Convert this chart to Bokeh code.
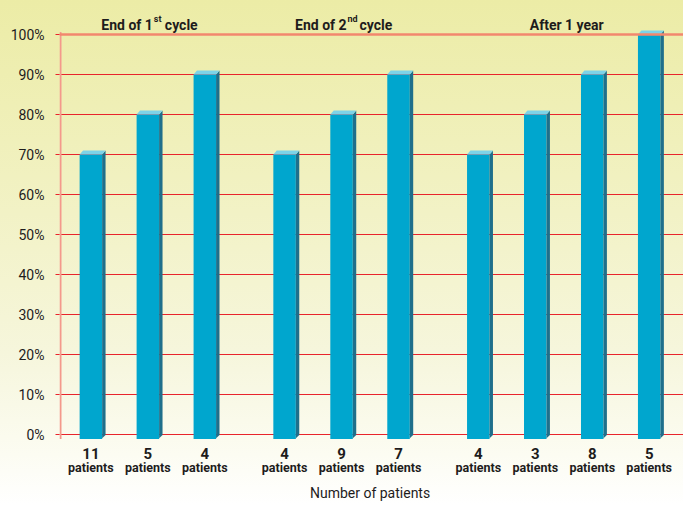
from bokeh.plotting import figure
from bokeh.models import Range1d, FixedTicker, Span, Label, LabelSet, ColumnDataSource
from bokeh.embed import file_html
from bokeh.resources import INLINE
from bokeh.core.properties import value

# ---------------- data ----------------
group_title_main = ["End of 1", "End of 2", "After 1 year"]
group_title_sup = ["st", "nd", ""]
group_title_tail = ["cycle", "cycle", ""]
group_sizes = [3, 3, 4]
percent = [70, 80, 90, 70, 80, 90, 70, 80, 90, 100]
patients = [11, 5, 4, 4, 9, 7, 4, 3, 8, 5]
patient_word = "patients"
y_ticks = [0, 10, 20, 30, 40, 50, 60, 70, 80, 90, 100]
y_tick_labels = ["0%", "10%", "20%", "30%", "40%", "50%", "60%", "70%", "80%", "90%", "100%"]
x_axis_label = "Number of patients"

# ---------------- style ----------------
FONT = "Roboto"
GAP = 0.4          # extra space between groups (in bar slots)
BAR_W = 0.395      # front face width
SIDE_W = 0.06      # depth of the 3D side
TOP_H = 1.0        # depth of the 3D top (in y units)
FRONT = "#00A6CE"
SIDE = "#1F6F8B"
TOP = "#7DD3E8"
GRID_RED = "#E8242C"
SALMON = "#F2876E"
AXIS = "#F4998C"
TEXT = "#1E1C1C"
PX = 1 / 56.97     # one pixel in x units
BAR_BOTTOM = -1.12
AXIS_TOP = 100.6

# positions of bars: running index plus a gap per group
pos, grp = [], []
idx = 0
for g, n in enumerate(group_sizes):
    for k in range(n):
        pos.append(idx + g * GAP)
        grp.append(g)
        idx += 1
centers = []
for g in range(len(group_sizes)):
    ps = [p for p, gg in zip(pos, grp) if gg == g]
    centers.append(sum(ps) / len(ps))

X0, X1 = -0.551, 10.402
Y0, Y1 = -17.75, 108.5
p = figure(width=683, height=505, output_backend="svg", toolbar_location=None,
           x_range=Range1d(X0, X1), y_range=Range1d(Y0, Y1),
           x_axis_location=None, min_border_left=59, min_border_right=0,
           min_border_top=0, min_border_bottom=0)
p.background_fill_color = None
p.border_fill_color = None
p.outline_line_color = None
p.styles = {"background-image":
            "linear-gradient(to bottom, #ECECA6 0%, #F1F1C0 35%, #F6F6DC 70%, #FCFCF2 90%, #FFFFFF 100%)"}

p.xgrid.visible = False
p.ygrid.ticker = FixedTicker(ticks=y_ticks)
p.ygrid.grid_line_color = GRID_RED
p.ygrid.grid_line_width = 1

ax = p.yaxis[0]
ax.ticker = FixedTicker(ticks=y_ticks)
ax.major_label_overrides = {t: l for t, l in zip(y_ticks, y_tick_labels)}
ax.axis_line_color = None
ax.major_tick_out = 4
ax.major_tick_in = 0
ax.major_tick_line_color = GRID_RED
ax.minor_tick_line_color = None
ax.major_label_standoff = 11
ax.major_label_text_font = FONT
ax.major_label_text_font_size = "14px"
ax.major_label_text_color = TEXT

# vertical axis line (only over the value range)
p.segment(x0=[X0 + PX], x1=[X0 + PX], y0=[BAR_BOTTOM], y1=[AXIS_TOP],
          line_color=AXIS, line_width=2)

# 3D bars
xs_front_l = [x - BAR_W / 2 for x in pos]
xs_front_r = [x + BAR_W / 2 for x in pos]
p.quad(left=xs_front_l, right=xs_front_r, bottom=[BAR_BOTTOM] * len(pos), top=percent,
       fill_color=FRONT, line_color=None)
side_x = [[r, r + SIDE_W, r + SIDE_W, r] for r in xs_front_r]
side_y = [[v, v + TOP_H, BAR_BOTTOM + TOP_H, BAR_BOTTOM + 0.2] for v in percent]
p.patches(side_x, side_y, fill_color=SIDE, line_color=None)
top_x = [[l, l + SIDE_W, r + SIDE_W, r] for l, r in zip(xs_front_l, xs_front_r)]
top_y = [[v, v + TOP_H, v + TOP_H, v] for v in percent]
p.patches(top_x, top_y, fill_color=TOP, line_color=None)

# 100% line in salmon, on top
p.add_layout(Span(location=100, dimension="width", line_color=SALMON, line_width=2.5, level="overlay"))

# patient counts under the bars
src = ColumnDataSource(dict(x=pos, n=[str(v) for v in patients], w=[patient_word] * len(pos)))
p.add_layout(LabelSet(x="x", y=-6.22, text="n", source=src, text_align="center",
                      text_baseline="alphabetic", text_font=value(FONT), text_font_style="bold",
                      text_font_size="15px", text_color=TEXT))
p.add_layout(LabelSet(x="x", y=-9.47, text="w", source=src, text_align="center",
                      text_baseline="alphabetic", text_font=value(FONT), text_font_style="bold",
                      text_font_size="12.5px", text_color=TEXT))

# group titles
for c, main, sup, tail in zip(centers, group_title_main, group_title_sup, group_title_tail):
    common = dict(x=c, y=102.4, text_baseline="alphabetic", text_font=FONT,
                  text_font_style="bold", text_color=TEXT)
    if sup:
        p.add_layout(Label(text=main, text_align="right", x_offset=5, text_font_size="14px", **common))
        sc = dict(common)
        sc["y"] = 103.9
        p.add_layout(Label(text=sup, text_align="left", x_offset=6, text_font_size="9px", **sc))
        p.add_layout(Label(text=tail, text_align="left", x_offset=17 + (1 if sup == "nd" else 0),
                           text_font_size="14px", **common))
    else:
        p.add_layout(Label(text=main, text_align="center", x_offset=3, text_font_size="14px", **common))

# axis title
p.add_layout(Label(x=(pos[0] + pos[-1]) / 2, y=-14.72, text=x_axis_label, text_align="center",
                   text_baseline="alphabetic", text_font=FONT, text_font_size="14px",
                   text_color=TEXT))

open("out.html", "w").write(file_html(p, INLINE))
